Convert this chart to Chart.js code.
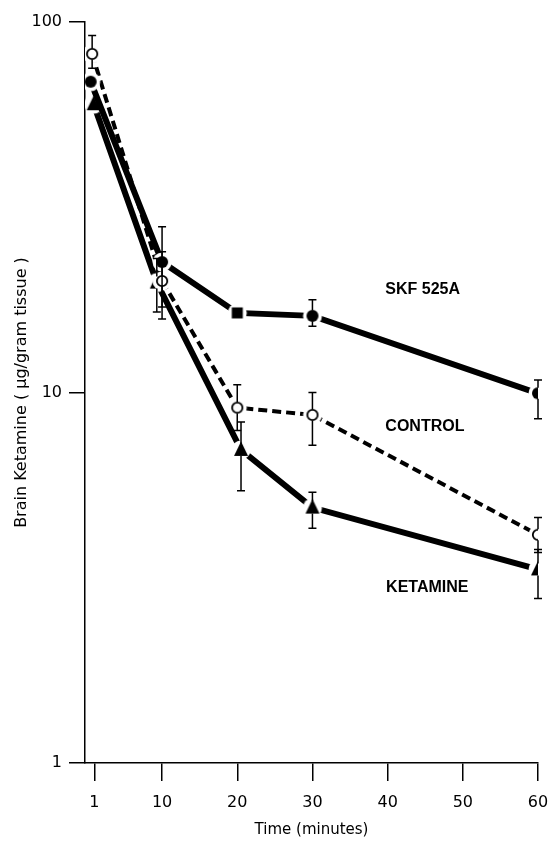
<!DOCTYPE html>
<html>
<head>
<meta charset="utf-8">
<title>Brain Ketamine</title>
<script src="https://cdn.jsdelivr.net/npm/chart.js@4.4.0/dist/chart.umd.min.js"></script>
<style>
  html, body { margin: 0; padding: 0; background: #fff; }
</style>
</head>
<body>
<canvas id="ketamineChart" width="553" height="844"></canvas>
<script>
// Sampling times (minutes), brain levels (µg/g) and error bar ends per group
const skfTimes = [0.5, 10, 20, 30, 60];
const skfLevels = [69, 22.5, 16.4, 16.1, 9.95];
const skfLow = [null, 17, null, 15.1, 8.5];
const skfHigh = [null, 28, null, 17.8, 10.8];

const controlTimes = [0.7, 10, 20, 30, 60];
const controlLevels = [82, 20.0, 9.1, 8.7, 4.13];
const controlLow = [75, 15.8, 7.9, 7.2, 3.7];
const controlHigh = [92, 24, 10.5, 10.0, 4.6];

const ketamineTimes = [0.9, 9.3, 20.5, 30, 60];
const ketamineLevels = [60, 19.8, 7.0, 4.89, 3.33];
const ketamineLow = [null, 16.5, 5.43, 4.30, 2.78];
const ketamineHigh = [null, 23, 8.32, 5.38, 3.77];

const xTicks = [1, 10, 20, 30, 40, 50, 60];
const yTicks = [1, 10, 100];

// group names, anchored in data space (left edge, vertical middle)
const groupLabels = [
    { text: 'SKF 525A', x: 39.7, y: 18.9 },
    { text: 'CONTROL', x: 39.7, y: 8.07 },
    { text: 'KETAMINE', x: 39.8, y: 2.98 }
];

const tickFont = { family: '"DejaVu Sans", sans-serif', size: 16 };

// Markers are small canvases with a white ring so lines stop short of them
function makeMarker(draw) {
    const c = document.createElement('canvas');
    c.width = 24;
    c.height = 24;
    const g = c.getContext('2d');
    g.translate(12, 12);
    g.fillStyle = '#fff';
    g.beginPath();
    g.arc(0, 0, 9.5, 0, Math.PI * 2);
    g.fill();
    draw(g);
    return c;
}

const dot = makeMarker(g => {
    g.fillStyle = '#000';
    g.beginPath();
    g.arc(0, 0, 6, 0, Math.PI * 2);
    g.fill();
});

const ring = makeMarker(g => {
    g.fillStyle = '#fff';
    g.strokeStyle = '#000';
    g.lineWidth = 1.8;
    g.beginPath();
    g.arc(0, 0, 5.2, 0, Math.PI * 2);
    g.fill();
    g.stroke();
});

const block = makeMarker(g => {
    g.fillStyle = '#000';
    g.fillRect(-5.5, -5.5, 11, 11);
});

const wedge = makeMarker(g => {
    g.fillStyle = '#000';
    g.beginPath();
    g.moveTo(0, -8.5);
    g.lineTo(7, 6);
    g.lineTo(-7, 6);
    g.closePath();
    g.fill();
});

function points(times, levels) {
    return times.map((t, i) => ({ x: t, y: levels[i] }));
}

const errorBars = {
    id: 'errorBars',
    afterDatasetsDraw(chart) {
        const { ctx, scales: { x, y } } = chart;
        ctx.save();
        ctx.strokeStyle = '#000';
        ctx.lineWidth = 1.5;
        chart.data.datasets.forEach(ds => {
            ds.data.forEach((pt, i) => {
                const lo = ds.errLow[i];
                const hi = ds.errHigh[i];
                if (lo == null || hi == null) return;
                const px = x.getPixelForValue(pt.x);
                const py = y.getPixelForValue(pt.y);
                const top = y.getPixelForValue(hi);
                const bottom = y.getPixelForValue(lo);
                const r = ds.markerGap;
                ctx.beginPath();
                if (top < py - r) {
                    ctx.moveTo(px, top);
                    ctx.lineTo(px, py - r);
                }
                if (bottom > py + r) {
                    ctx.moveTo(px, py + r);
                    ctx.lineTo(px, bottom);
                }
                ctx.moveTo(px - 4, top);
                ctx.lineTo(px + 4, top);
                ctx.moveTo(px - 4, bottom);
                ctx.lineTo(px + 4, bottom);
                ctx.stroke();
            });
        });

        ctx.font = 'bold 16px "Liberation Sans", Arial, sans-serif';
        ctx.fillStyle = '#000';
        ctx.textBaseline = 'middle';
        ctx.textAlign = 'left';
        groupLabels.forEach(l => {
            ctx.fillText(l.text, x.getPixelForValue(l.x), y.getPixelForValue(l.y));
        });
        ctx.restore();
    }
};

const ctx = document.getElementById('ketamineChart').getContext('2d');
const chart = new Chart(ctx, {
    type: 'line',
    data: {
        datasets: [{
            label: 'SKF 525A',
            data: points(skfTimes, skfLevels),
            errLow: skfLow,
            errHigh: skfHigh,
            markerGap: 5.5,
            borderColor: '#000',
            borderWidth: 6,
            pointStyle: [dot, dot, block, dot, dot],
            pointRadius: 7
        }, {
            label: 'CONTROL',
            data: points(controlTimes, controlLevels),
            errLow: controlLow,
            errHigh: controlHigh,
            markerGap: 5.5,
            borderColor: '#000',
            borderWidth: 4,
            borderDash: [9, 5],
            pointStyle: ring,
            pointRadius: 7
        }, {
            label: 'KETAMINE',
            data: points(ketamineTimes, ketamineLevels),
            errLow: ketamineLow,
            errHigh: ketamineHigh,
            markerGap: 6,
            borderColor: '#000',
            borderWidth: 6,
            pointStyle: wedge,
            pointRadius: 7
        }]
    },
    options: {
        responsive: false,
        animation: false,
        events: [],
        layout: {
            padding: { top: 22, right: 15, left: 0, bottom: 0 }
        },
        elements: {
            line: { tension: 0, fill: false, borderCapStyle: 'butt' }
        },
        plugins: {
            legend: { display: false },
            tooltip: { enabled: false }
        },
        scales: {
            x: {
                type: 'linear',
                min: -0.25,
                max: 60,
                afterBuildTicks: scale => {
                    scale.ticks = xTicks.map(v => ({ value: v }));
                },
                afterFit: scale => {
                    // fixed band under the plot; the "60" label may hang into the right margin
                    scale.height = 81;
                    scale.paddingLeft = 0;
                    scale.paddingRight = 0;
                },
                grid: {
                    drawOnChartArea: false,
                    tickLength: 18,
                    color: '#000',
                    lineWidth: 1.5
                },
                border: { display: true, color: '#000', width: 1.5 },
                ticks: {
                    color: '#000',
                    padding: 12,
                    maxRotation: 0,
                    autoSkip: false,
                    font: tickFont,
                    callback: v => String(v)
                },
                title: {
                    display: true,
                    text: 'Time (minutes)',
                    color: '#000',
                    font: { family: '"DejaVu Sans", sans-serif', size: 15 },
                    padding: { top: 0, bottom: 5 }
                }
            },
            y: {
                type: 'logarithmic',
                min: 1,
                max: 100,
                afterBuildTicks: scale => {
                    scale.ticks = yTicks.map(v => ({ value: v }));
                },
                afterFit: scale => {
                    scale.width = 85;
                    scale.paddingTop = 0;
                    scale.paddingBottom = 0;
                },
                grid: {
                    drawOnChartArea: false,
                    tickLength: 16,
                    color: '#000',
                    lineWidth: 1.5
                },
                border: { display: true, color: '#000', width: 1.5 },
                ticks: {
                    color: '#000',
                    padding: 7,
                    font: tickFont,
                    callback: v => String(v)
                },
                title: {
                    display: true,
                    text: 'Brain Ketamine ( µg/gram tissue )',
                    color: '#000',
                    font: { family: '"DejaVu Sans", sans-serif', size: 16 },
                    padding: { top: 12, bottom: 0 }
                }
            }
        }
    },
    plugins: [errorBars]
});
</script>
</body>
</html>
